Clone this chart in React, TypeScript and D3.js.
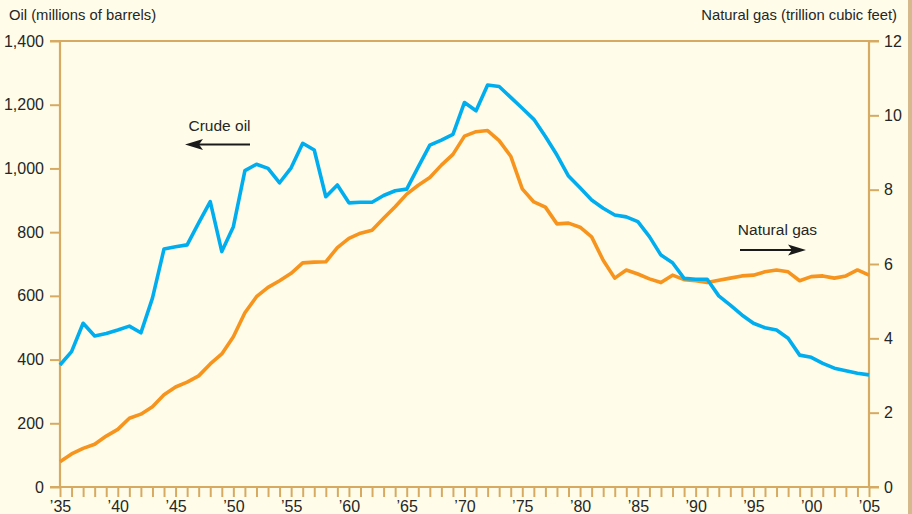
import React, { useEffect, useRef } from 'react'
import * as d3 from 'd3'

// years 1935..2005
const years = d3.range(1935, 2006)

// crude oil, millions of barrels
const oil = [
  383, 425, 514, 474, 482, 493, 505, 484, 593, 747,
  754, 760, 829, 896, 739, 817, 993, 1013, 1000, 955,
  1002, 1079, 1058, 911, 948, 892, 894, 894, 915, 930,
  935, 1005, 1073, 1089, 1107, 1207, 1181, 1262, 1257, 1223,
  1189, 1154, 1100, 1042, 976, 939, 901, 875, 854, 848,
  833, 786, 728, 704, 655, 652, 652, 600, 571, 540,
  514, 500, 493, 467, 414, 407, 388, 373, 365, 357,
  352,
]

// natural gas, trillion cubic feet
const gas = [
  0.68, 0.89, 1.04, 1.15, 1.37, 1.55, 1.85, 1.96, 2.16, 2.48,
  2.69, 2.82, 2.99, 3.31, 3.58, 4.04, 4.69, 5.12, 5.37, 5.55,
  5.75, 6.03, 6.05, 6.06, 6.44, 6.69, 6.83, 6.91, 7.23, 7.54,
  7.88, 8.12, 8.33, 8.66, 8.95, 9.44, 9.56, 9.59, 9.32, 8.9,
  8.02, 7.67, 7.53, 7.08, 7.1, 6.99, 6.73, 6.1, 5.62, 5.84,
  5.73, 5.6, 5.5, 5.7, 5.58, 5.55, 5.5, 5.56, 5.62, 5.68,
  5.7, 5.79, 5.84, 5.79, 5.55, 5.66, 5.68, 5.62, 5.68, 5.84,
  5.7,
]

const oilTicks = [0, 200, 400, 600, 800, 1000, 1200, 1400]
const gasTicks = [0, 2, 4, 6, 8, 10, 12]
const labelYears = [1935, 1940, 1945, 1950, 1955, 1960, 1965, 1970, 1975, 1980, 1985, 1990, 1995, 2000, 2005]

const W = 912
const H = 514
const margin = { top: 41, right: 43, bottom: 27, left: 60 }
const font = '"Liberation Sans Narrow", "Arial Narrow", "Liberation Sans", sans-serif'
const axisColor = '#D6AA63'
const textColor = '#262626'

export default function App() {
  const ref = useRef<SVGSVGElement>(null)

  useEffect(() => {
    const svg = d3.select(ref.current)
    svg.selectAll('*').remove()

    const x = d3.scaleLinear().domain([1935, 2005]).range([margin.left, W - margin.right])
    const yOil = d3.scaleLinear().domain([0, 1400]).range([H - margin.bottom, margin.top])
    const yGas = d3.scaleLinear().domain([0, 12]).range([H - margin.bottom, margin.top])

    svg.append('rect').attr('width', W).attr('height', H).attr('fill', '#FFFDE9')
    svg.append('rect').attr('x', 908).attr('width', 4).attr('height', H).attr('fill', '#D5B98C')

    // left axis
    const left = svg.append('g').attr('transform', `translate(${margin.left},0)`)
      .call(d3.axisLeft(yOil).tickValues(oilTicks).tickSize(10).tickPadding(6).tickFormat(d3.format(',')))
    // right axis
    const right = svg.append('g').attr('transform', `translate(${W - margin.right},0)`)
      .call(d3.axisRight(yGas).tickValues(gasTicks).tickSize(10).tickPadding(5))
    // bottom axis with yearly ticks
    const bottom = svg.append('g').attr('transform', `translate(0,${H - margin.bottom})`)
      .call(d3.axisBottom(x).tickValues(years).tickSize(10).tickPadding(4)
        .tickFormat(d => (labelYears.includes(+d) ? '\u2019' + String(d).slice(2) : '')))

    for (const g of [left, right, bottom]) {
      g.select('.domain').attr('stroke', axisColor).attr('stroke-width', 2.2)
      g.selectAll('.tick line').attr('stroke', axisColor).attr('stroke-width', 2)
      g.selectAll('.tick text').attr('fill', textColor).style('font-family', font).style('font-size', '16px')
    }
    left.select('.domain').attr('d', `M0,${margin.top}V${H - margin.bottom}`)
    right.select('.domain').attr('d', `M0,${margin.top}V${H - margin.bottom}`)
    bottom.select('.domain').attr('d', `M${margin.left - 10},0H${W - margin.right + 10}`)

    // top frame line
    svg.append('line')
      .attr('x1', margin.left - 10).attr('x2', W - margin.right + 10)
      .attr('y1', margin.top).attr('y2', margin.top)
      .attr('stroke', axisColor).attr('stroke-width', 2.2)

    const oilLine = d3.line<number>().x((_, i) => x(years[i])).y(d => yOil(d))
    const gasLine = d3.line<number>().x((_, i) => x(years[i])).y(d => yGas(d))

    svg.append('path').datum(gas).attr('d', gasLine)
      .attr('fill', 'none').attr('stroke', '#F7941D').attr('stroke-width', 3.6).attr('stroke-linejoin', 'round')
    svg.append('path').datum(oil).attr('d', oilLine)
      .attr('fill', 'none').attr('stroke', '#00AEEF').attr('stroke-width', 3.6).attr('stroke-linejoin', 'round')

    // axis titles
    svg.append('text').attr('x', 9).attr('y', 20).text('Oil (millions of barrels)')
      .attr('fill', textColor).style('font-family', font).style('font-size', '14.8px')
    svg.append('text').attr('x', 897).attr('y', 20).attr('text-anchor', 'end').text('Natural gas (trillion cubic feet)')
      .attr('fill', textColor).style('font-family', font).style('font-size', '14.8px')

    // annotations: label, shaft and a filled arrowhead
    const arrow = (label: string, tx: number, ty: number, x1: number, x2: number, ay: number) => {
      const dir = Math.sign(x2 - x1)
      svg.append('text').attr('x', tx).attr('y', ty).attr('text-anchor', 'middle').text(label)
        .attr('fill', textColor).style('font-family', font).style('font-size', '15.5px')
      svg.append('line').attr('x1', x1).attr('x2', x2 - dir * 12).attr('y1', ay).attr('y2', ay)
        .attr('stroke', '#1a1a1a').attr('stroke-width', 2)
      svg.append('path')
        .attr('d', `M${x2},${ay}L${x2 - dir * 18},${ay - 5.5}L${x2 - dir * 14},${ay}L${x2 - dir * 18},${ay + 5.5}Z`)
        .attr('fill', '#1a1a1a')
    }
    arrow('Crude oil', 219.5, 130.5, 250, 185, 144.5)
    arrow('Natural gas', 777.5, 235, 740, 806, 250)
  }, [])

  return (
    <svg ref={ref} width={W} height={H} style={{ position: 'absolute', left: 0, top: 0 }} />
  )
}
